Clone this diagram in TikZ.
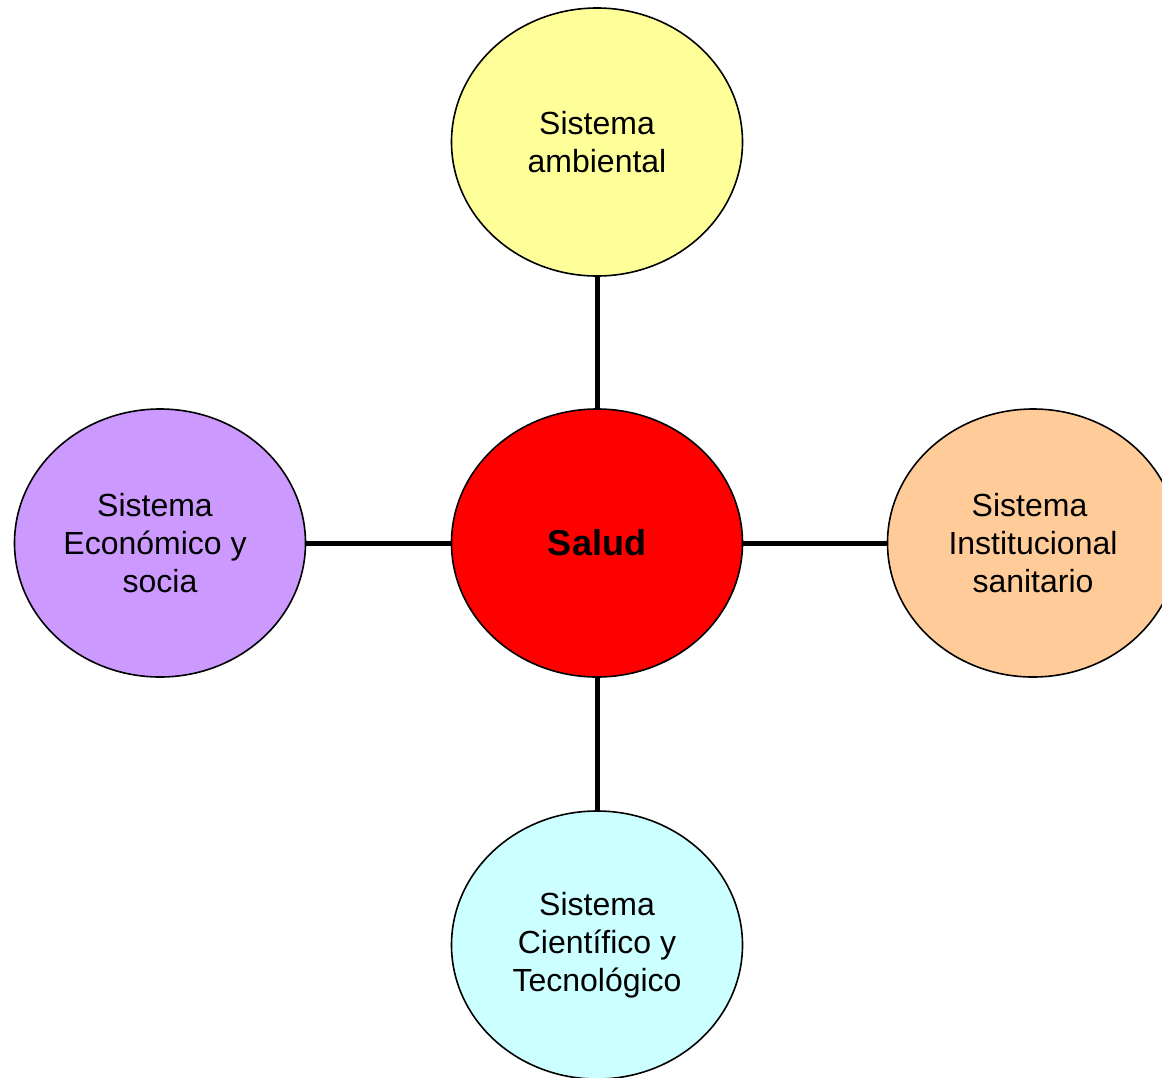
\documentclass[tikz,border=0pt]{standalone}
\usepackage{fontspec}
\setmainfont{Liberation Sans}
\usetikzlibrary{shapes.geometric}
\definecolor{cyellow}{HTML}{FFFF99}
\definecolor{cred}{HTML}{FF0000}
\definecolor{cpurple}{HTML}{CC99FF}
\definecolor{cpeach}{HTML}{FFCC99}
\definecolor{ccyan}{HTML}{CCFFFF}
\begin{document}
\begin{tikzpicture}[x=1pt,y=-1pt,
  sysnode/.style={ellipse,draw=black,line width=1.6pt,minimum width=291pt,minimum height=268pt,inner sep=0pt,align=center,font=\fontsize{32}{38}\selectfont},
  link/.style={line width=5pt,draw=black}]
\useasboundingbox (0,0) rectangle (1162,1077);
\clip (0,0) rectangle (1162,1077);
\node[sysnode,fill=cyellow] (amb) at (597,142) {Sistema\\ambiental};
\node[sysnode,fill=cred,font=\fontsize{36}{40}\bfseries\selectfont] (salud) at (597,543) {Salud};
\node[sysnode,fill=cpurple] (eco) at (160,543) {Sistema\mbox{}\kern10pt\\Económico y\mbox{}\kern10pt\\socia};
\node[sysnode,fill=cpeach] (inst) at (1033,543) {Sistema\mbox{}\kern7pt\\Institucional\\sanitario};
\node[sysnode,fill=ccyan] (cien) at (597,945) {Sistema\\Científico y\\Tecnológico};
\draw[link] (salud) -- (amb);
\draw[link] (salud) -- (eco);
\draw[link] (salud) -- (inst);
\draw[link] (salud) -- (cien);
\end{tikzpicture}
\end{document}
